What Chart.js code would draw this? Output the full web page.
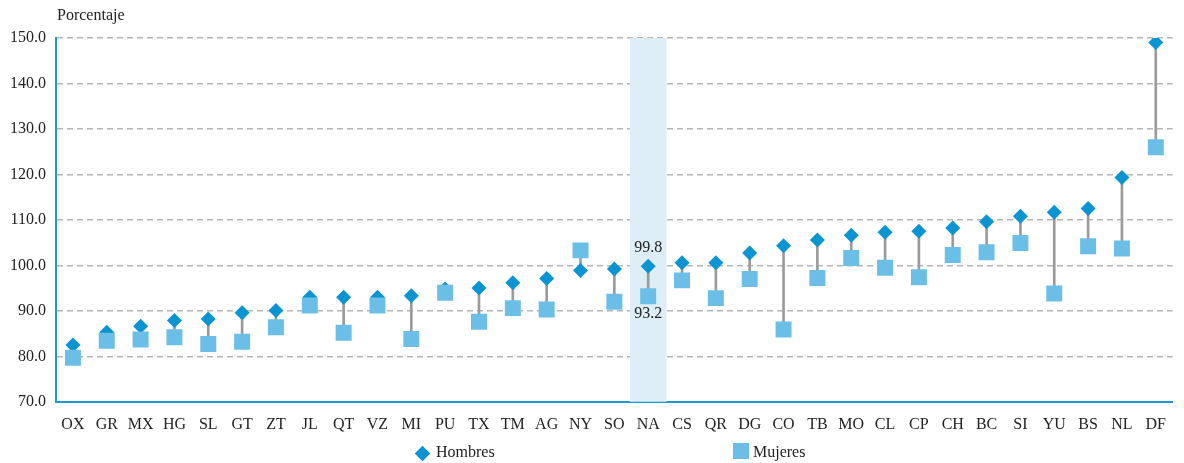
<!DOCTYPE html>
<html>
<head>
<meta charset="utf-8">
<script src="https://cdn.jsdelivr.net/npm/chart.js@4/dist/chart.umd.min.js"></script>
<style>
	body { margin: 0; background: #fff; }
	#chart-parent { position: relative; width: 1184px; height: 463px; }
	#legend { position: absolute; top: 443px; left: 0; width: 1184px; height: 20px; font-family: "Liberation Serif", serif; font-size: 16px; color: #222; }
	.item { position: absolute; top: 0; line-height: 18px; }
	.item span { display: inline-block; vertical-align: -2px; margin-right: 4px; }
	.diamond { width: 11px; height: 11px; background: #0a94d2; transform: rotate(45deg); margin-left: 2px; }
	.square { width: 16px; height: 16px; background: #6bbfe7; }
</style>
</head>
<body>
<div id="chart-parent">
	<canvas id="chart" width="1184" height="463"></canvas>
	<div id="legend"></div>
</div>
<script>
var estados = ['OX', 'GR', 'MX', 'HG', 'SL', 'GT', 'ZT', 'JL', 'QT', 'VZ', 'MI', 'PU', 'TX', 'TM', 'AG', 'NY', 'SO',
	'NA', 'CS', 'QR', 'DG', 'CO', 'TB', 'MO', 'CL', 'CP', 'CH', 'BC', 'SI', 'YU', 'BS', 'NL', 'DF'];
var hombres = [82.5, 85.3, 86.6, 87.9, 88.2, 89.6, 90.1, 93.0, 93.0, 93.0, 93.3, 94.8, 95.0, 96.2, 97.1, 98.9, 99.2,
	99.8, 100.6, 100.6, 102.7, 104.3, 105.6, 106.6, 107.3, 107.5, 108.2, 109.6, 110.8, 111.7, 112.5, 119.3, 149.0];
var mujeres = [79.7, 83.4, 83.7, 84.2, 82.7, 83.2, 86.4, 91.2, 85.2, 91.2, 83.8, 94.0, 87.6, 90.6, 90.3, 103.3, 92.0,
	93.2, 96.7, 92.8, 97.0, 85.9, 97.2, 101.6, 99.5, 97.4, 102.3, 102.9, 104.9, 93.8, 104.2, 103.7, 126.0];
var nacional = 'NA';

var serif = '"Liberation Serif", "DejaVu Serif", serif';

function connectors() {
	var ranges = [];
	for (var i = 0; i < hombres.length; i++)
		ranges.push([Math.min(hombres[i], mujeres[i]), Math.max(hombres[i], mujeres[i])]);
	return ranges;
}

function band() {
	return estados.map(function(e) {
		return e == nacional ? [70, 150] : null;
	});
}

// título del eje y etiquetas del promedio nacional
var extras = {
	id: 'extras',
	afterDraw: function(chart) {
		var ctx = chart.ctx;
		var x = chart.scales.x;
		var y = chart.scales.y;
		var i = estados.indexOf(nacional);
		var cx = x.getPixelForValue(i);
		ctx.save();
		ctx.font = '16px ' + serif;
		ctx.fillStyle = '#222';
		ctx.textBaseline = 'middle';
		ctx.textAlign = 'left';
		ctx.fillText('Porcentaje', chart.chartArea.left + 1, 16);
		ctx.textAlign = 'center';
		ctx.fillText(hombres[i].toFixed(1), cx, y.getPixelForValue(hombres[i]) - 18);
		ctx.fillText(mujeres[i].toFixed(1), cx, y.getPixelForValue(mujeres[i]) + 17);
		ctx.restore();
	}
};

function createChart() {
	return new Chart(document.getElementById('chart'), {
		type: 'bar',
		data: {
			labels: estados,
			datasets: [{
				label: 'Nacional',
				data: band(),
				backgroundColor: '#deeef7',
				barThickness: 36,
				grouped: false,
				order: 4
			}, {
				label: 'Diferencia',
				data: connectors(),
				backgroundColor: '#9b9b9b',
				barThickness: 2,
				grouped: false,
				order: 3
			}, {
				type: 'line',
				label: 'Hombres',
				data: hombres,
				showLine: false,
				pointStyle: 'rectRot',
				pointRadius: 7.5,
				pointBorderWidth: 0,
				backgroundColor: '#0a94d2',
				borderColor: '#0a94d2',
				order: 2
			}, {
				type: 'line',
				label: 'Mujeres',
				data: mujeres,
				showLine: false,
				pointStyle: 'rect',
				pointRadius: 11.3,
				pointBorderWidth: 0,
				backgroundColor: '#6bbfe7',
				borderColor: '#6bbfe7',
				order: 1
			}]
		},
		options: {
			responsive: false,
			animation: false,
			layout: { padding: { left: 0, right: 9, top: 38, bottom: 24 } },
			plugins: {
				legend: { display: false },
				tooltip: { enabled: false }
			},
			scales: {
				x: {
					grid: { display: false },
					border: { color: '#1a9ad6', width: 2 },
					ticks: { color: '#222', font: { family: serif, size: 16 }, padding: 5, maxRotation: 0, autoSkip: false }
				},
				y: {
					min: 70,
					max: 150,
					grid: {
						drawTicks: false,
						color: function(c) { return c.tick.value == 70 ? 'rgba(0,0,0,0)' : '#b5b5b5'; },
						lineWidth: 1.5
					},
					border: { color: '#1a9ad6', width: 2, dash: [6, 4] },
					ticks: {
						stepSize: 10,
						padding: 10,
						color: '#222',
						font: { family: serif, size: 16 },
						callback: function(v) { return v.toFixed(1); }
					}
				}
			}
		},
		plugins: [extras]
	});
}

function showLegend() {
	var legend = document.getElementById('legend');
	legend.innerHTML =
		'<div class="item" style="left:415px"><span class="diamond"></span> Hombres</div>' +
		'<div class="item" style="left:733px"><span class="square"></span>Mujeres</div>';
}

createChart();
showLegend();
</script>
</body>
</html>
